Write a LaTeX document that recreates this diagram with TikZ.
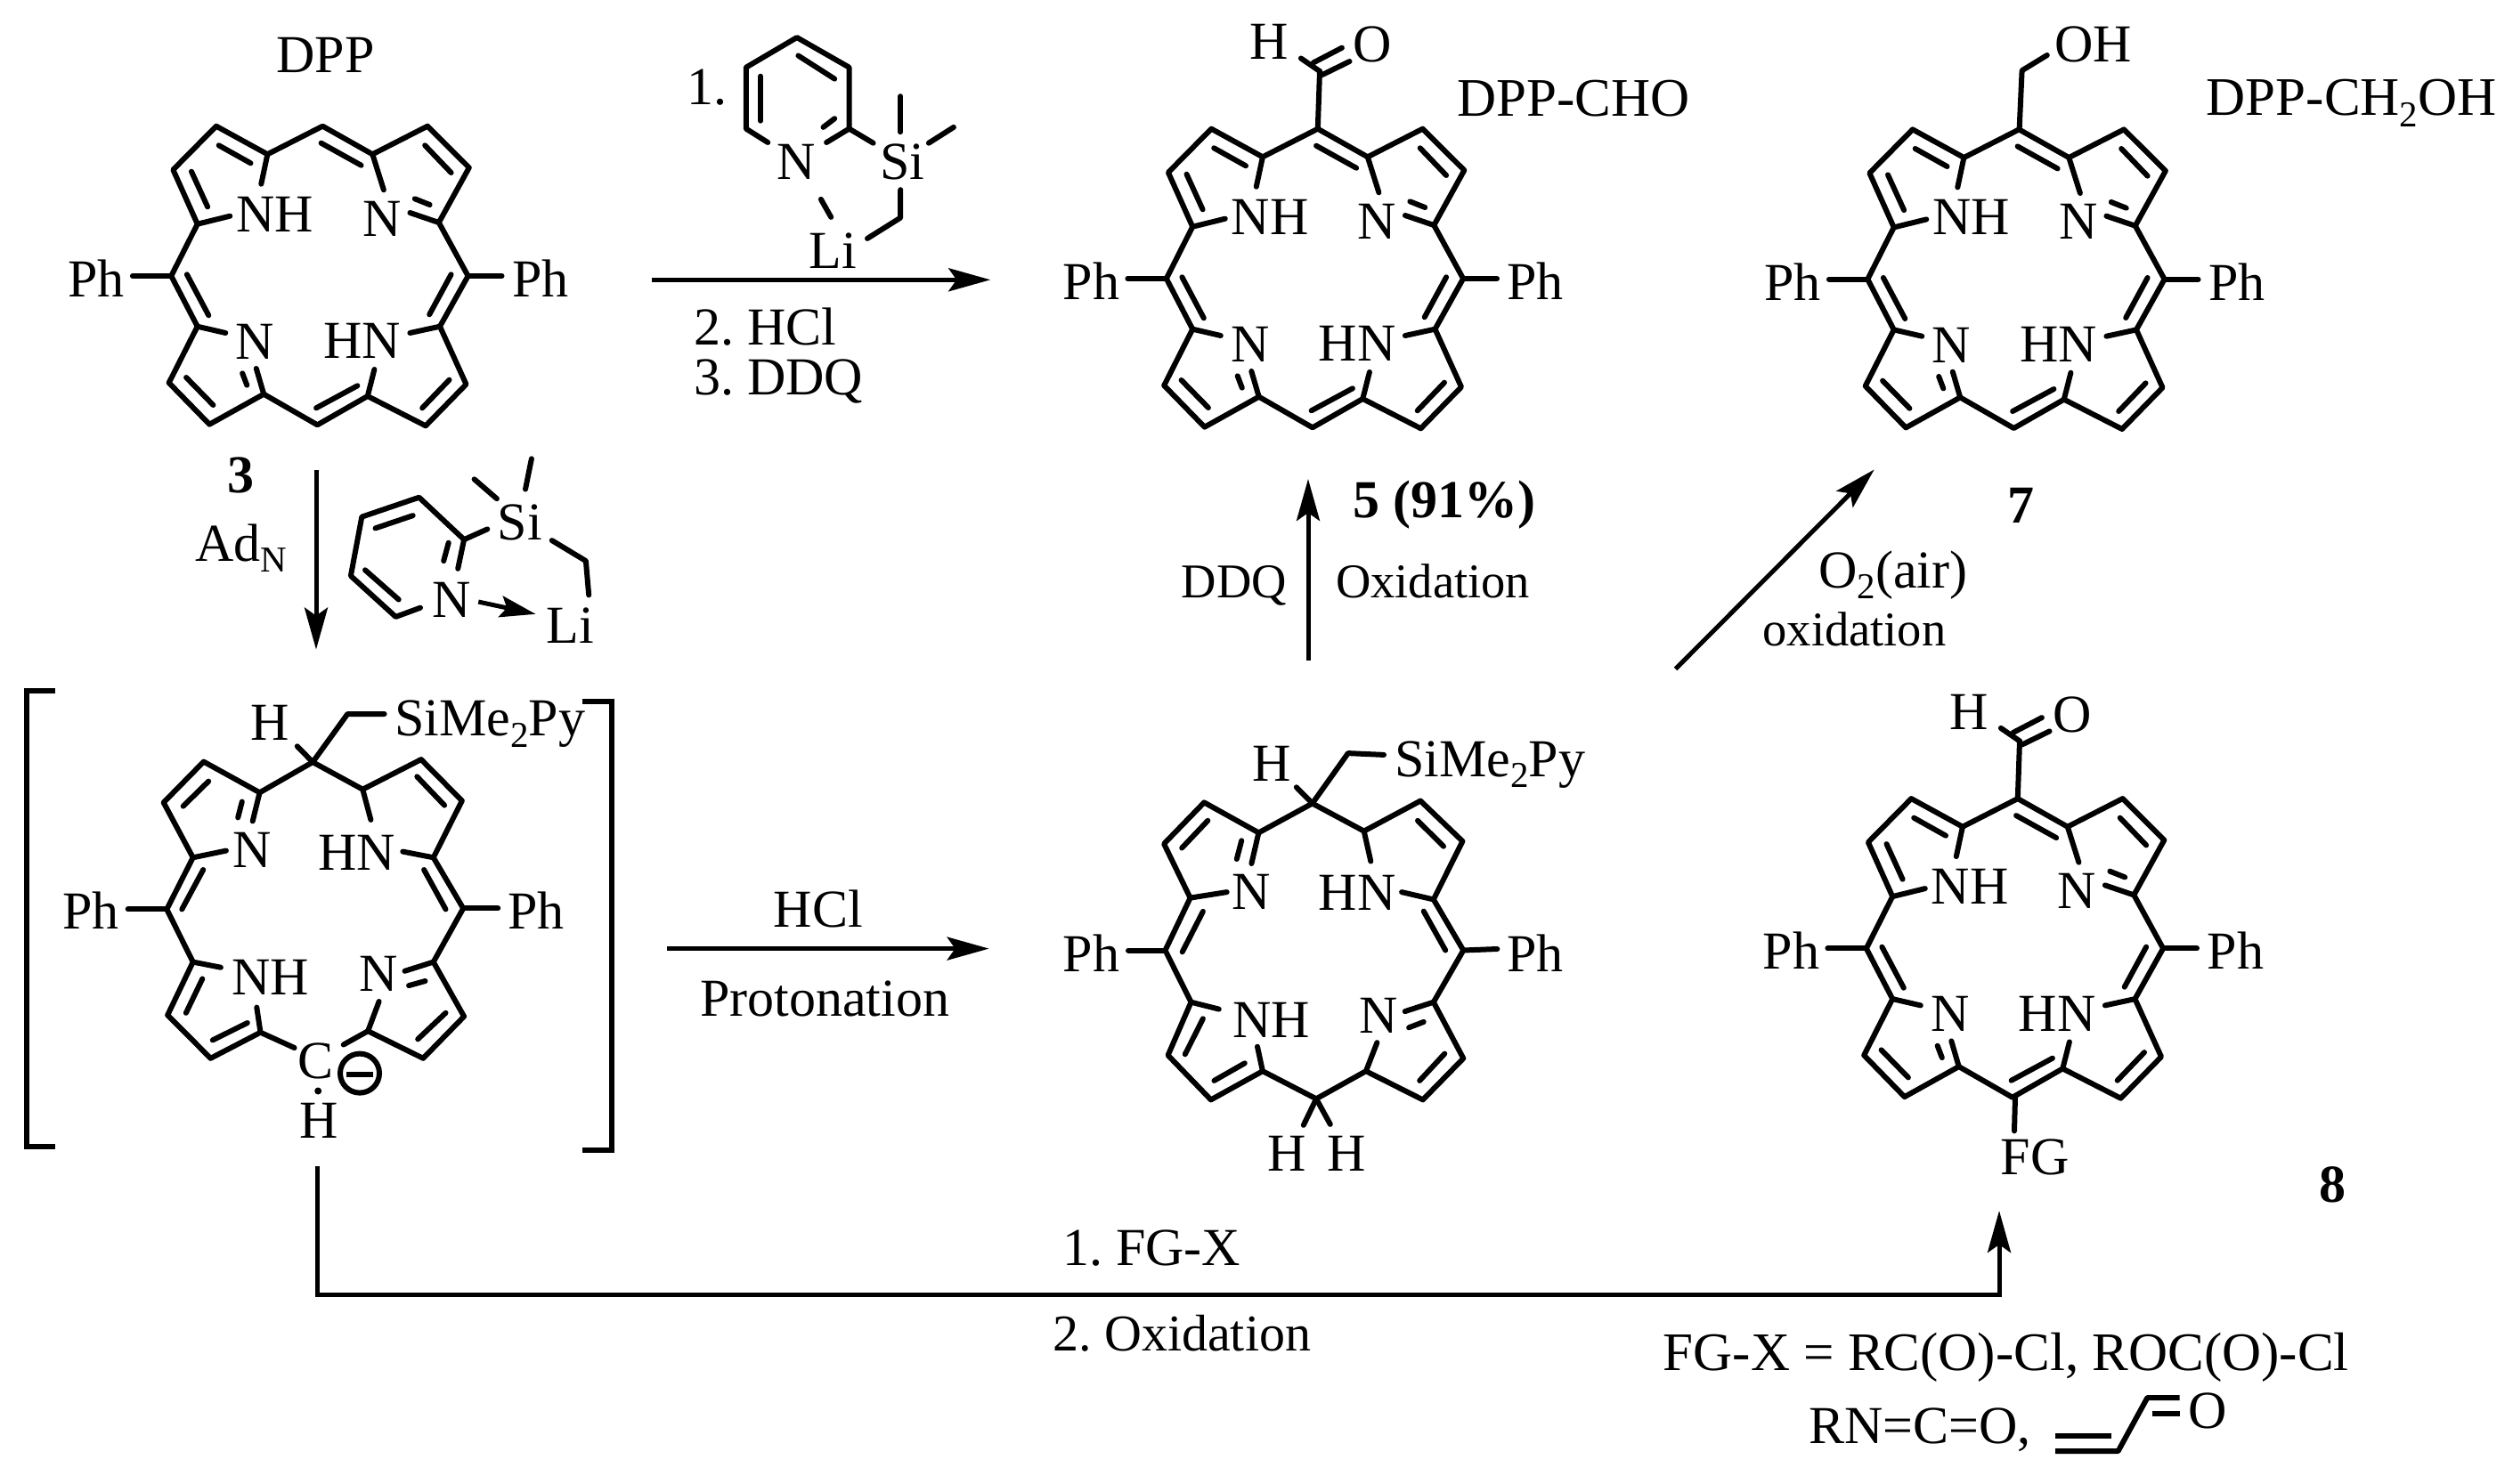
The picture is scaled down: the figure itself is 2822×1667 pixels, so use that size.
\documentclass[tikz,border=0pt]{standalone}
\usepackage{fontspec}
\setmainfont{Liberation Serif}
\usetikzlibrary{
  arrows.meta, % for the arrow heads
  positioning,
}
\newcommand{\lowsub}[1]{\raisebox{-12.5pt}{\fontsize{41}{41}\selectfont #1}}
\frenchspacing
\tikzset{
  bond/.style={line width=6pt, line cap=round, line join=round},
  rxn/.style={line width=5pt, -{Stealth[length=47pt, width=26pt, inset=9pt]}},
  lbl/.style={inner sep=0pt, anchor=base, font=\fontsize{60}{60}\selectfont},
  lblsmall/.style={lbl, font=\fontsize{54.5}{54.5}\selectfont},
  lblwide/.style={lbl, anchor=base west, font=\fontsize{61}{61}\selectfont},
  porphyrin/.pic={
    \draw [bond] (221.7,251.7) -- (194.4,190.7) -- (242.8,141.7) -- (300.4,173.3) -- (362.3,141.7)
      -- (418.3,173.3) -- (480.1,141.7) -- (526.8,188.3) -- (492.8,250) -- (525.6,310)
      -- (494,366.7) -- (523.5,431.7) -- (478,478.3) -- (412.8,445) -- (356.4,477.3)
      -- (296.2,442.7) -- (235.2,476.7) -- (189.7,430) -- (221.7,366.7) -- (192.3,310) -- cycle;
    % second lines of the double bonds
    \draw [bond] (245.7,163.3) -- (281.5,183.3);
    \draw [bond] (215,192.7) -- (233.1,232.3);
    \draw [bond] (360.6,160.7) -- (405.6,185.7);
    \draw [bond] (477.2,163.3) -- (506.6,194);
    \draw [bond] (465.8,223.3) -- (482.7,230);
    \draw [bond] (209.9,308.3) -- (234.3,354.3);
    \draw [bond] (506.6,308.3) -- (482.2,353.3);
    \draw [bond] (209.1,424) -- (239.4,455);
    \draw [bond] (272.2,419.3) -- (277.3,432.7);
    \draw [bond] (355.1,458.3) -- (401.4,433.3);
    \draw [bond] (474.2,458.3) -- (504.5,426.7);
    % bonds towards the atoms
    \draw [bond] (300.4,173.3) -- (293.3,206.7);
    \draw [bond] (221.7,251.7) -- (258.3,242.7);
    \draw [bond] (418.3,173.3) -- (430.9,213.3);
    \draw [bond] (492.8,250) -- (460.4,239);
    \draw [bond] (221.7,366.7) -- (253.3,374);
    \draw [bond] (296.2,442.7) -- (287.8,414);
    \draw [bond] (412.8,445) -- (420.4,415);
    \draw [bond] (494,366.7) -- (460.4,374);
    \draw [bond] (148.9,310) -- (192.3,310);
    \draw [bond] (525.6,310) -- (563.5,310);
    \node [lbl] (nh) at (308.8,260) {NH};
    \node [lbl] (n) at (428.8,265) {N};
    \node [lbl] (nb) at (286.5,403.3) {N};
    \node [lbl] (hn) at (406.5,402.7) {HN};
    \node [lbl] (phl) at (108,333.3) {Ph};
    \node [lbl] (phr) at (606.8,333.3) {Ph};
  },
  formyl/.pic={
    \draw [bond] (362.3,141.7) -- (364.5,77);
    \draw [bond] (364.5,77) -- (343.4,62.5);
    \draw [bond] (357.2,67.5) -- (389.4,50.7);
    \draw [bond] (367.4,81) -- (398,66);
    \node [lbl] (h) at (308,64) {H};
    \node [lbl] (o) at (423.5,66.6) {O};
  },
}

\begin{document}
\begin{tikzpicture}[x=1pt, y=-1pt]
  \useasboundingbox (0,0) rectangle (2822,1667);

  % porphyrins
  \pic (dpp) at (0,0) {porphyrin};
  \pic (cho) at (1117.5,3) {porphyrin};
  \pic (cho) at (1117.5,3) {formyl};
  \pic (oh) at (1905,3.7) {porphyrin};
  \pic (fg) at (1903.5,755.4) {porphyrin};
  \pic (fg) at (1903.5,755.4) {formyl};

  \node [lbl] (dpplabel) at (365.7,81.7) {DPP};
  \node [lblwide] (cholabel) at (1636,131) {DPP-CHO};
  \node [lblwide] (ohlabel) at (2477.6,130) {DPP-CH\lowsub{2}OH};
  \node [lbl] (num3) at (270,553.6) {\textbf{3}};
  \node [lbl] (num5) at (1621.5,581.7) {\textbf{5 (91\%)}};
  \node [lbl] (num7) at (2269,587.5) {\textbf{7}};
  \node [lbl] (num8) at (2619,1350) {\textbf{8}};

  % CH2OH of 7
  \draw [bond] (2267.6,145.4) -- (2270.6,79.2) -- (2298.8,62);
  \node [lbl] (ohgroup) at (2350.6,70) {OH};

  % FG of 8
  \draw [bond] (2263,1232) -- (2262,1270.4);
  \node [lbl] (fggroup) at (2285,1319) {FG};

  % reagent over the first arrow
  \draw [bond] (862.2,160) -- (837.8,144.6) -- (837.8,75.7) -- (894.9,42.1) -- (953.6,75.7) -- (953.6,144.6) -- (928.1,160);
  \draw [bond] (854.1,85.7) -- (854.1,135.7);
  \draw [bond] (896.4,62.5) -- (937.2,88.6);
  \draw [bond] (924.5,142.9) -- (937.2,133.2);
  \draw [bond] (953.6,144.6) -- (980.6,160.7);
  \draw [bond] (1011.2,108.2) -- (1011.2,148.2);
  \draw [bond] (1042.9,160.7) -- (1070.9,142.9);
  \draw [bond] (1011.2,213.2) -- (1011.2,244.6) -- (974,267.9);
  \draw [bond] (921.9,223.9) -- (933.2,243.9);
  \node [lbl] (one) at (794,117.1) {1.};
  \node [lbl] (pyn) at (894.4,201.8) {N};
  \node [lbl] (pysi) at (1013.3,201.8) {Si};
  \node [lbl] (pyli) at (935.2,301.8) {Li};
  \node [lbl, anchor=base west] (two) at (779,387.5) {2. HCl};
  \node [lbl, anchor=base west] (three) at (779,443.9) {3. DDQ};

  % reagent beside the down arrow
  \draw [bond] (472,682.7) -- (444.4,692.9) -- (393.9,646.9) -- (406.3,580.6) -- (470.6,558.7) -- (521.1,606.1) -- (514.2,638.8);
  \draw [bond] (421.5,593.4) -- (463.7,579.1);
  \draw [bond] (410,640.3) -- (447.7,673.5);
  \draw [bond] (503.7,609.7) -- (498.2,630.1);
  \draw [bond] (521.1,606.1) -- (547.3,594.4);
  \draw [bond] (532.6,538.3) -- (557.9,560.2);
  \draw [bond] (596.9,515.3) -- (590,549.5);
  \draw [bond] (619.8,607.1) -- (657.9,630.1) -- (661.2,668.4);
  \node [lbl] (adn) at (271,630) {Ad\lowsub{N}};
  \node [lbl] (dn) at (507.3,693.9) {N};
  \node [lbl] (dsi) at (584,606) {Si};
  \node [lbl] (dli) at (640.5,722) {Li};
  \draw [line width=5pt, -{Stealth[length=40pt, width=24pt, inset=7pt]}] (537.2,676) -- (601.5,689.8);

  % brackets
  \draw [bond, line cap=butt, line join=miter] (62,775.5) -- (29.8,775.5) -- (29.8,1288.3) -- (62,1288.3);
  \draw [bond, line cap=butt, line join=miter] (654,788) -- (687.3,788) -- (687.3,1292) -- (654,1292);

  % anion in the brackets
  \draw [bond] (330.6,1177) -- (292.5,1159.7) -- (236.5,1188.8) -- (188.2,1140.3) -- (216.7,1080.6) -- (187.3,1021.4)
    -- (216.7,963.3) -- (183.7,901.5) -- (228.7,855.6) -- (291.6,890.3) -- (351.2,856.1) -- (407.3,886.7)
    -- (472.9,853.1) -- (518.8,899.5) -- (486.7,963.3) -- (520.2,1020.4) -- (486.7,1080.6) -- (521.1,1141.8)
    -- (475.2,1188.8) -- (413.2,1158.2) -- (385.7,1173.5);
  \draw [bond] (205.7,905.6) -- (234.2,877.6);
  \draw [bond] (271.8,900.5) -- (267.2,918.4);
  \draw [bond] (228.2,977) -- (204.3,1021.4);
  \draw [bond] (468.3,872.4) -- (499.1,904.6);
  \draw [bond] (476.1,977) -- (500.5,1021.4);
  \draw [bond] (227.3,1099.5) -- (208.9,1137.8);
  \draw [bond] (238.8,1168.4) -- (277.8,1149);
  \draw [bond] (459.1,1107.1) -- (477.5,1102);
  \draw [bond] (469.2,1167.3) -- (500.5,1137.8);
  \draw [bond] (291.6,890.3) -- (283.7,922.4);
  \draw [bond] (216.7,963.3) -- (253.9,955.6);
  \draw [bond] (407.3,886.7) -- (416.4,920.9);
  \draw [bond] (486.7,963.3) -- (452.3,956.6);
  \draw [bond] (216.7,1080.6) -- (247.9,1086.7);
  \draw [bond] (292.5,1159.7) -- (288.3,1131.6);
  \draw [bond] (486.7,1080.6) -- (454.5,1090.8);
  \draw [bond] (413.2,1158.2) -- (425.6,1125);
  \draw [bond] (143.7,1021.4) -- (187.3,1021.4);
  \draw [bond] (520.2,1020.4) -- (559.2,1020.4);
  \draw [bond] (351.2,856.1) -- (333.8,838.3);
  \draw [bond] (351.2,856.1) -- (390.3,802) -- (431.6,802);
  \node [lbl] (anh) at (303.5,831.6) {H};
  \node [lbl, anchor=base west] (ansi) at (443,826.5) {SiMe\lowsub{2}Py};
  \node [lbl] (ann) at (283.3,974.5) {N};
  \node [lbl] (anhn) at (400.4,977) {HN};
  \node [lbl] (anphl) at (102,1043.4) {Ph};
  \node [lbl] (anphr) at (602,1043.4) {Ph};
  \node [lbl] (annh) at (304,1117.3) {NH};
  \node [lbl] (annb) at (424.7,1113.8) {N};
  \node [lbl] (anc) at (354.5,1211.7) {C};
  \node [lbl] (anhb) at (358.6,1278) {H};
  \fill (357.2,1225.5) circle (4pt);
  \draw [line width=6pt] (404,1205.6) circle (22pt);
  \draw [line width=6pt] (389.4,1206.6) -- (418.7,1206.6);

  % dihydro compound
  \draw [bond] (1336.6,1008.6) -- (1307.1,947.9) -- (1352.2,901.4) -- (1413.4,935.4) -- (1473.7,902.5) -- (1531.7,933.6)
    -- (1595.1,899.6) -- (1642.4,945) -- (1609.8,1010.4) -- (1643.3,1067.5) -- (1609.8,1125.7) -- (1643.3,1188.9)
    -- (1597.8,1235.4) -- (1533.9,1203.2) -- (1478.1,1234.3) -- (1417.9,1203.2) -- (1359.8,1235.4) -- (1311.6,1185.4)
    -- (1337.5,1125.7) -- (1308.5,1067.5) -- cycle;
  \draw [bond] (1327.2,952.5) -- (1356.3,921.8);
  \draw [bond] (1394.2,944.3) -- (1388.8,965);
  \draw [bond] (1350.9,1023.9) -- (1327.7,1069.3);
  \draw [bond] (1592,921.8) -- (1621,950.7);
  \draw [bond] (1598.7,1023.6) -- (1623.2,1067.5);
  \draw [bond] (1350.9,1144.3) -- (1330.8,1184.3);
  \draw [bond] (1363.4,1213.9) -- (1397.8,1194.3);
  \draw [bond] (1582.1,1154.3) -- (1598.7,1147.9);
  \draw [bond] (1594.2,1213.9) -- (1622.3,1183.6);
  \draw [bond] (1413.4,935.4) -- (1405.4,970);
  \draw [bond] (1336.6,1008.6) -- (1377.7,1002.1);
  \draw [bond] (1531.7,933.6) -- (1539.3,967.5);
  \draw [bond] (1609.8,1010.4) -- (1574.1,1002.1);
  \draw [bond] (1337.5,1125.7) -- (1368.8,1133.6);
  \draw [bond] (1417.9,1203.2) -- (1412,1175.7);
  \draw [bond] (1533.9,1203.2) -- (1546.4,1171.1);
  \draw [bond] (1609.8,1125.7) -- (1577.7,1136.1);
  \draw [bond] (1267,1067.5) -- (1308.5,1067.5);
  \draw [bond] (1643.3,1067.5) -- (1681.3,1066);
  \draw [bond] (1473.7,902.5) -- (1455.8,884.3);
  \draw [bond] (1473.7,902.5) -- (1513.8,846.1) -- (1554,847.9);
  \draw [bond] (1478.1,1234.3) -- (1463.8,1263.9);
  \draw [bond] (1478.1,1234.3) -- (1493.8,1262.9);
  \node [lbl] (dhh) at (1427.7,877.1) {H};
  \node [lbl, anchor=base west] (dhsi) at (1566,872.1) {SiMe\lowsub{2}Py};
  \node [lbl] (dhn) at (1404.9,1021.8) {N};
  \node [lbl] (dhhn) at (1524.1,1022.9) {HN};
  \node [lbl] (dhphl) at (1225.4,1091.4) {Ph};
  \node [lbl] (dhphr) at (1723.7,1091.4) {Ph};
  \node [lbl] (dhnh) at (1427.7,1165) {NH};
  \node [lbl] (dhnb) at (1547.8,1160.4) {N};
  \node [lbl] (dhha) at (1445,1315.7) {H};
  \node [lbl] (dhhb) at (1512.5,1315.7) {H};

  % reaction arrows
  \coordinate (topstart) at (731.6,314.3);
  \coordinate (topend) at (1112.2,314.3);
  \draw [rxn] (topstart) -- (topend);

  \coordinate (downstart) at (355,528);
  \coordinate (downend) at (355,729.6);
  \draw [rxn] (downstart) -- (downend);

  \coordinate (hclstart) at (749,1065.6);
  \coordinate (hclend) at (1110.6,1065.6);
  \draw [rxn] (hclstart) to
    node [above=21pt, inner sep=0pt, font=\fontsize{60}{60}\selectfont, pos=.47] (hcl) {HCl}
    node [below=34pt, inner sep=0pt, font=\fontsize{60}{60}\selectfont, pos=.49] (proton) {Protonation} (hclend);

  \coordinate (upstart) at (1469,742);
  \coordinate (upend) at (1469,538);
  \draw [rxn] (upstart) -- (upend);
  \node [lblsmall] (ddq) at (1386,671.7) {DDQ};
  \node [lblsmall] (oxi) at (1609,671.7) {Oxidation};

  \coordinate (airstart) at (1881.6,751.4);
  \coordinate (airend) at (2104.7,527.4);
  \draw [rxn] (airstart) -- (airend);
  \node [lbl] (air) at (2126,660) {O\lowsub{2}(air)};
  \node [lblsmall] (oxib) at (2082.5,725) {oxidation};

  \coordinate (fgstart) at (356.4,1310);
  \coordinate (fgleft) at (356.4,1454);
  \coordinate (fgright) at (2245,1454);
  \coordinate (fgend) at (2245,1360);
  \draw [rxn, line join=miter] (fgstart) -- (fgleft) to
    node [above=29pt, inner sep=0pt, font=\fontsize{60}{60}\selectfont, pos=.496] (fgx) {1. FG-X}
    node [below=21pt, inner sep=0pt, font=\fontsize{58}{58}\selectfont, pos=.514] (oxic) {2. Oxidation} (fgright) -- (fgend);

  % the list of FG-X
  \node [lblwide] (fglist) at (1867.7,1539.3) {FG-X = RC(O)-Cl, ROC(O)-Cl};
  \node [lbl, anchor=base west] (fgiso) at (2031.3,1621.7) {RN=C=O,};
  \draw [bond, line cap=butt] (2308,1630) -- (2378.6,1630) -- (2411.4,1570) -- (2447.5,1570);
  \draw [bond, line cap=butt] (2308,1613.3) -- (2371.2,1613.3);
  \draw [bond, line cap=butt] (2417,1587.7) -- (2447.5,1587.7);
  \node [lbl] (acro) at (2479,1604) {O};
\end{tikzpicture}
\end{document}
